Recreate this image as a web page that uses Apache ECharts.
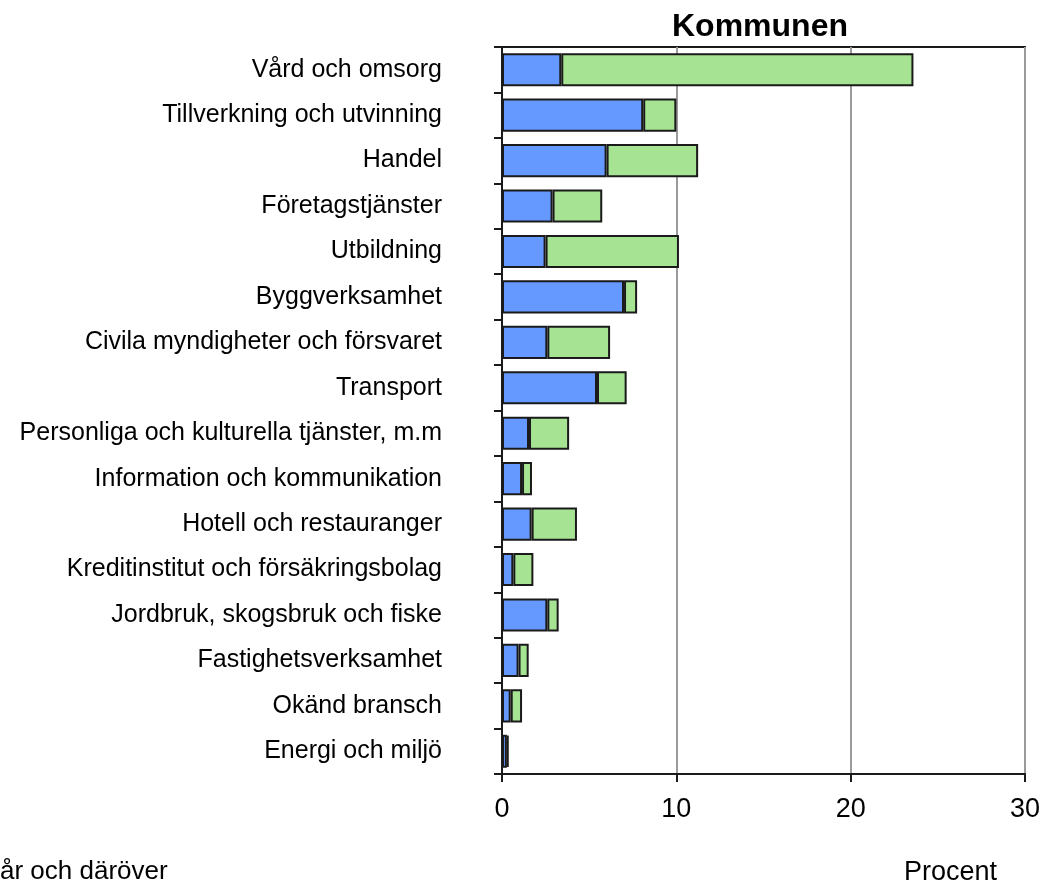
<!DOCTYPE html>
<html>
<head>
<meta charset="utf-8">
<script src="https://cdn.jsdelivr.net/npm/echarts@6/dist/echarts.min.js"></script>
<style>
  html, body { margin: 0; padding: 0; background: #fff; }
  #main { width: 1056px; height: 884px; }
</style>
</head>
<body>
<div id="main"></div>
<script>
// branscher, uppifrån och ned
const categories = [
  'Vård och omsorg',
  'Tillverkning och utvinning',
  'Handel',
  'Företagstjänster',
  'Utbildning',
  'Byggverksamhet',
  'Civila myndigheter och försvaret',
  'Transport',
  'Personliga och kulturella tjänster, m.m',
  'Information och kommunikation',
  'Hotell och restauranger',
  'Kreditinstitut och försäkringsbolag',
  'Jordbruk, skogsbruk och fiske',
  'Fastighetsverksamhet',
  'Okänd bransch',
  'Energi och miljö'
];
const blueValues = [3.4, 8.1, 6.0, 2.9, 2.5, 7.0, 2.6, 5.45, 1.55, 1.15, 1.7, 0.65, 2.6, 0.95, 0.5, 0.28];
const greenValues = [20.2, 1.9, 5.25, 2.85, 7.65, 0.75, 3.6, 1.7, 2.3, 0.57, 2.6, 1.15, 0.65, 0.58, 0.65, 0.1];
const xTicks = [0, 10, 20, 30];

const chart = echarts.init(document.getElementById('main'));
const font = 'Liberation Sans, Arial, sans-serif';

chart.setOption({
  animation: false,
  grid: {
    left: 502,
    right: 31,
    top: 47,
    bottom: 110,
    show: true,
    borderColor: '#1a1a1a',
    borderWidth: 2
  },
  xAxis: {
    type: 'value',
    min: xTicks[0],
    max: xTicks[xTicks.length - 1],
    interval: 10,
    axisLine: { show: true, lineStyle: { color: '#1a1a1a', width: 2 } },
    axisTick: { show: true, length: 8, lineStyle: { color: '#1a1a1a', width: 2 } },
    axisLabel: { color: '#000', fontSize: 27, fontFamily: font, margin: 22 },
    splitLine: { show: true, lineStyle: { color: '#9a9a9a', width: 2 } }
  },
  yAxis: {
    type: 'category',
    inverse: true,
    data: categories,
    axisLine: { show: true, lineStyle: { color: '#1a1a1a', width: 2 } },
    axisTick: { show: true, length: 8, lineStyle: { color: '#1a1a1a', width: 2 } },
    axisLabel: { color: '#000', fontSize: 25, fontFamily: font, margin: 60 }
  },
  series: [
    {
      name: 'Serie 1',
      type: 'bar',
      stack: 'total',
      barCategoryGap: '27%',
      data: blueValues,
      itemStyle: { color: '#6699ff', borderColor: '#1a1a1a', borderWidth: 2 }
    },
    {
      name: 'Serie 2',
      type: 'bar',
      stack: 'total',
      barCategoryGap: '27%',
      data: greenValues,
      itemStyle: { color: '#a6e493', borderColor: '#1a1a1a', borderWidth: 2 }
    }
  ],
  graphic: [
    {
      type: 'text',
      style: {
        x: 760, y: 11, text: 'Kommunen', textAlign: 'center',
        font: 'bold 32px ' + font, fill: '#000'
      }
    },
    {
      type: 'text',
      style: {
        x: 0, y: 859, text: 'år och däröver',
        font: '26px ' + font, fill: '#000'
      }
    },
    {
      type: 'text',
      style: {
        x: 904, y: 859, text: 'Procent',
        font: '27px ' + font, fill: '#000'
      }
    }
  ]
});
</script>
</body>
</html>
